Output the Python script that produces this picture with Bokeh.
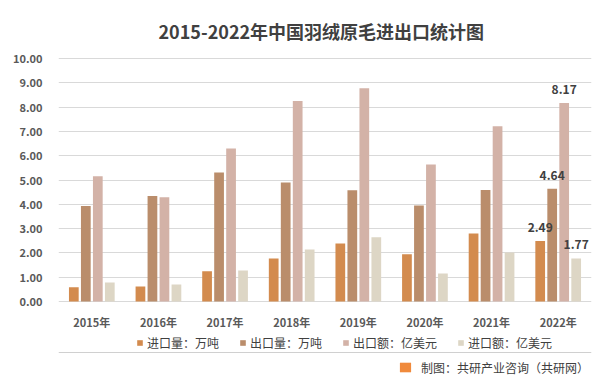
from bokeh.plotting import figure
from bokeh.models import (ColumnDataSource, FactorRange, Range1d, Legend, LegendItem,
                          NumeralTickFormatter, FixedTicker, Span)
from bokeh.transform import dodge
from bokeh.core.properties import value
from bokeh.embed import file_html
from bokeh.resources import INLINE

# ---- data ----
years = ["2015年", "2016年", "2017年", "2018年", "2019年", "2020年", "2021年", "2022年"]
import_vol = [0.59, 0.62, 1.25, 1.77, 2.39, 1.94, 2.80, 2.49]   # 进口量：万吨
export_vol = [3.93, 4.34, 5.31, 4.90, 4.58, 3.95, 4.59, 4.64]   # 出口量：万吨
export_val = [5.15, 4.29, 6.30, 8.25, 8.78, 5.64, 7.21, 8.17]   # 出口额：亿美元
import_val = [0.78, 0.70, 1.28, 2.14, 2.64, 1.15, 2.02, 1.77]   # 进口额：亿美元
series_names = ["进口量：万吨", "出口量：万吨", "出口额：亿美元", "进口额：亿美元"]
y_ticks = [0, 1, 2, 3, 4, 5, 6, 7, 8, 9, 10]
title_text = "2015-2022年中国羽绒原毛进出口统计图"
source_text = "制图：共研产业咨询（共研网）"

colors = ["#D38B4E", "#BA8D6B", "#D3B2A7", "#DDD6C5"]
offsets = [-0.27, -0.09, 0.09, 0.27]
FONT = "Noto Sans CJK SC"

series = [import_vol, export_vol, export_val, import_val]
src = ColumnDataSource(dict(year=years, s0=import_vol, s1=export_vol, s2=export_val, s3=import_val,
                            base=[0] * len(years)))

# layout (pixels): frame from y=57 to y=385; value 10 at y=58, value 0 at y=301
FRAME_TOP, FRAME_BOTTOM, Y10, Y0 = 57, 385, 58, 301
k = (Y0 - Y10) / 10.0
y_end = 10 + (Y10 - FRAME_TOP) / k
y_start = -(FRAME_BOTTOM - Y0) / k

p = figure(x_range=FactorRange(*years, range_padding=0), y_range=Range1d(y_start, y_end),
           frame_width=533, frame_height=FRAME_BOTTOM - FRAME_TOP,
           output_backend="svg", toolbar_location=None,
           min_border_left=58, min_border_right=24, min_border_top=FRAME_TOP,
           min_border_bottom=390 - FRAME_BOTTOM)
p.outline_line_color = None
p.background_fill_color = "white"
p.border_fill_color = "white"

renderers = []
for i in range(4):
    r = p.vbar(x=dodge("year", offsets[i], range=p.x_range), top="s%d" % i, width=0.146,
               source=src, fill_color=colors[i], line_color=None)
    renderers.append(r)

# data labels for the last year
for i in range(4):
    sub = ColumnDataSource(dict(year=[years[-1]], y=[series[i][-1]], t=["%.2f" % series[i][-1]]))
    p.text(x=dodge("year", offsets[i], range=p.x_range), y="y", text="t", source=sub,
           text_align="center", text_baseline="middle", y_offset=-13.5,
           text_font=value(FONT), text_font_size="12px", text_font_style="bold",
           text_color="#404040")

# category labels under the baseline
p.text(x="year", y="base", text="year", source=src, text_align="center",
       text_baseline="middle", y_offset=20, text_font=value(FONT), text_font_size="11px",
       text_font_style="bold", text_color="#595959")

# title
p.title.text = title_text
p.title.align = "left"
p.title.offset = 100
p.title.text_font = FONT
p.title.text_font_size = "18px"
p.title.text_font_style = "bold"
p.title.text_color = "#404040"
p.title.standoff = 27

# axes
p.xaxis.visible = False
p.yaxis.ticker = FixedTicker(ticks=y_ticks)
p.yaxis.formatter = NumeralTickFormatter(format="0.00")
p.yaxis.axis_line_color = None
p.yaxis.major_tick_line_color = None
p.yaxis.minor_tick_line_color = None
p.yaxis.major_label_standoff = 10
p.yaxis.major_label_text_font = FONT
p.yaxis.major_label_text_font_size = "11px"
p.yaxis.major_label_text_font_style = "bold"
p.yaxis.major_label_text_color = "#595959"

p.xgrid.grid_line_color = None
p.ygrid.ticker = FixedTicker(ticks=y_ticks)
p.ygrid.grid_line_color = "#D9D9D9"
p.ygrid.grid_line_width = 1

# legend
legend = Legend(items=[LegendItem(label=series_names[i], renderers=[renderers[i]]) for i in range(4)],
                location=(136 - 58, FRAME_BOTTOM - 352.5), orientation="horizontal",
                glyph_width=7, glyph_height=7, label_standoff=4, spacing=20,
                padding=0, margin=0, border_line_color=None, background_fill_alpha=0,
                label_text_font=FONT, label_text_font_size="12px", label_text_color="#404040",
                label_height=20)
p.add_layout(legend, "center")

# separator line
p.add_layout(Span(location=-(352 - Y0) / k, dimension="width", line_color="#D0D0D0",
                  line_width=1))

# footer: logo + source
logo_src = ColumnDataSource(dict(year=[years[0]], top=[0]))
logo = p.vbar(x="year", top="top", width=0.2, source=logo_src,
              fill_color="#F08A3C", line_color=None)
footer = Legend(items=[LegendItem(label=source_text, renderers=[logo])],
                location=(398 - 58, FRAME_BOTTOM - 377), orientation="horizontal",
                glyph_width=14, glyph_height=12, label_standoff=9,
                padding=0, margin=0, border_line_color=None, background_fill_alpha=0,
                label_text_font=FONT, label_text_font_size="12px", label_text_color="#404040",
                label_height=20)
p.add_layout(footer, "center")

open("out.html", "w").write(file_html(p, INLINE))
